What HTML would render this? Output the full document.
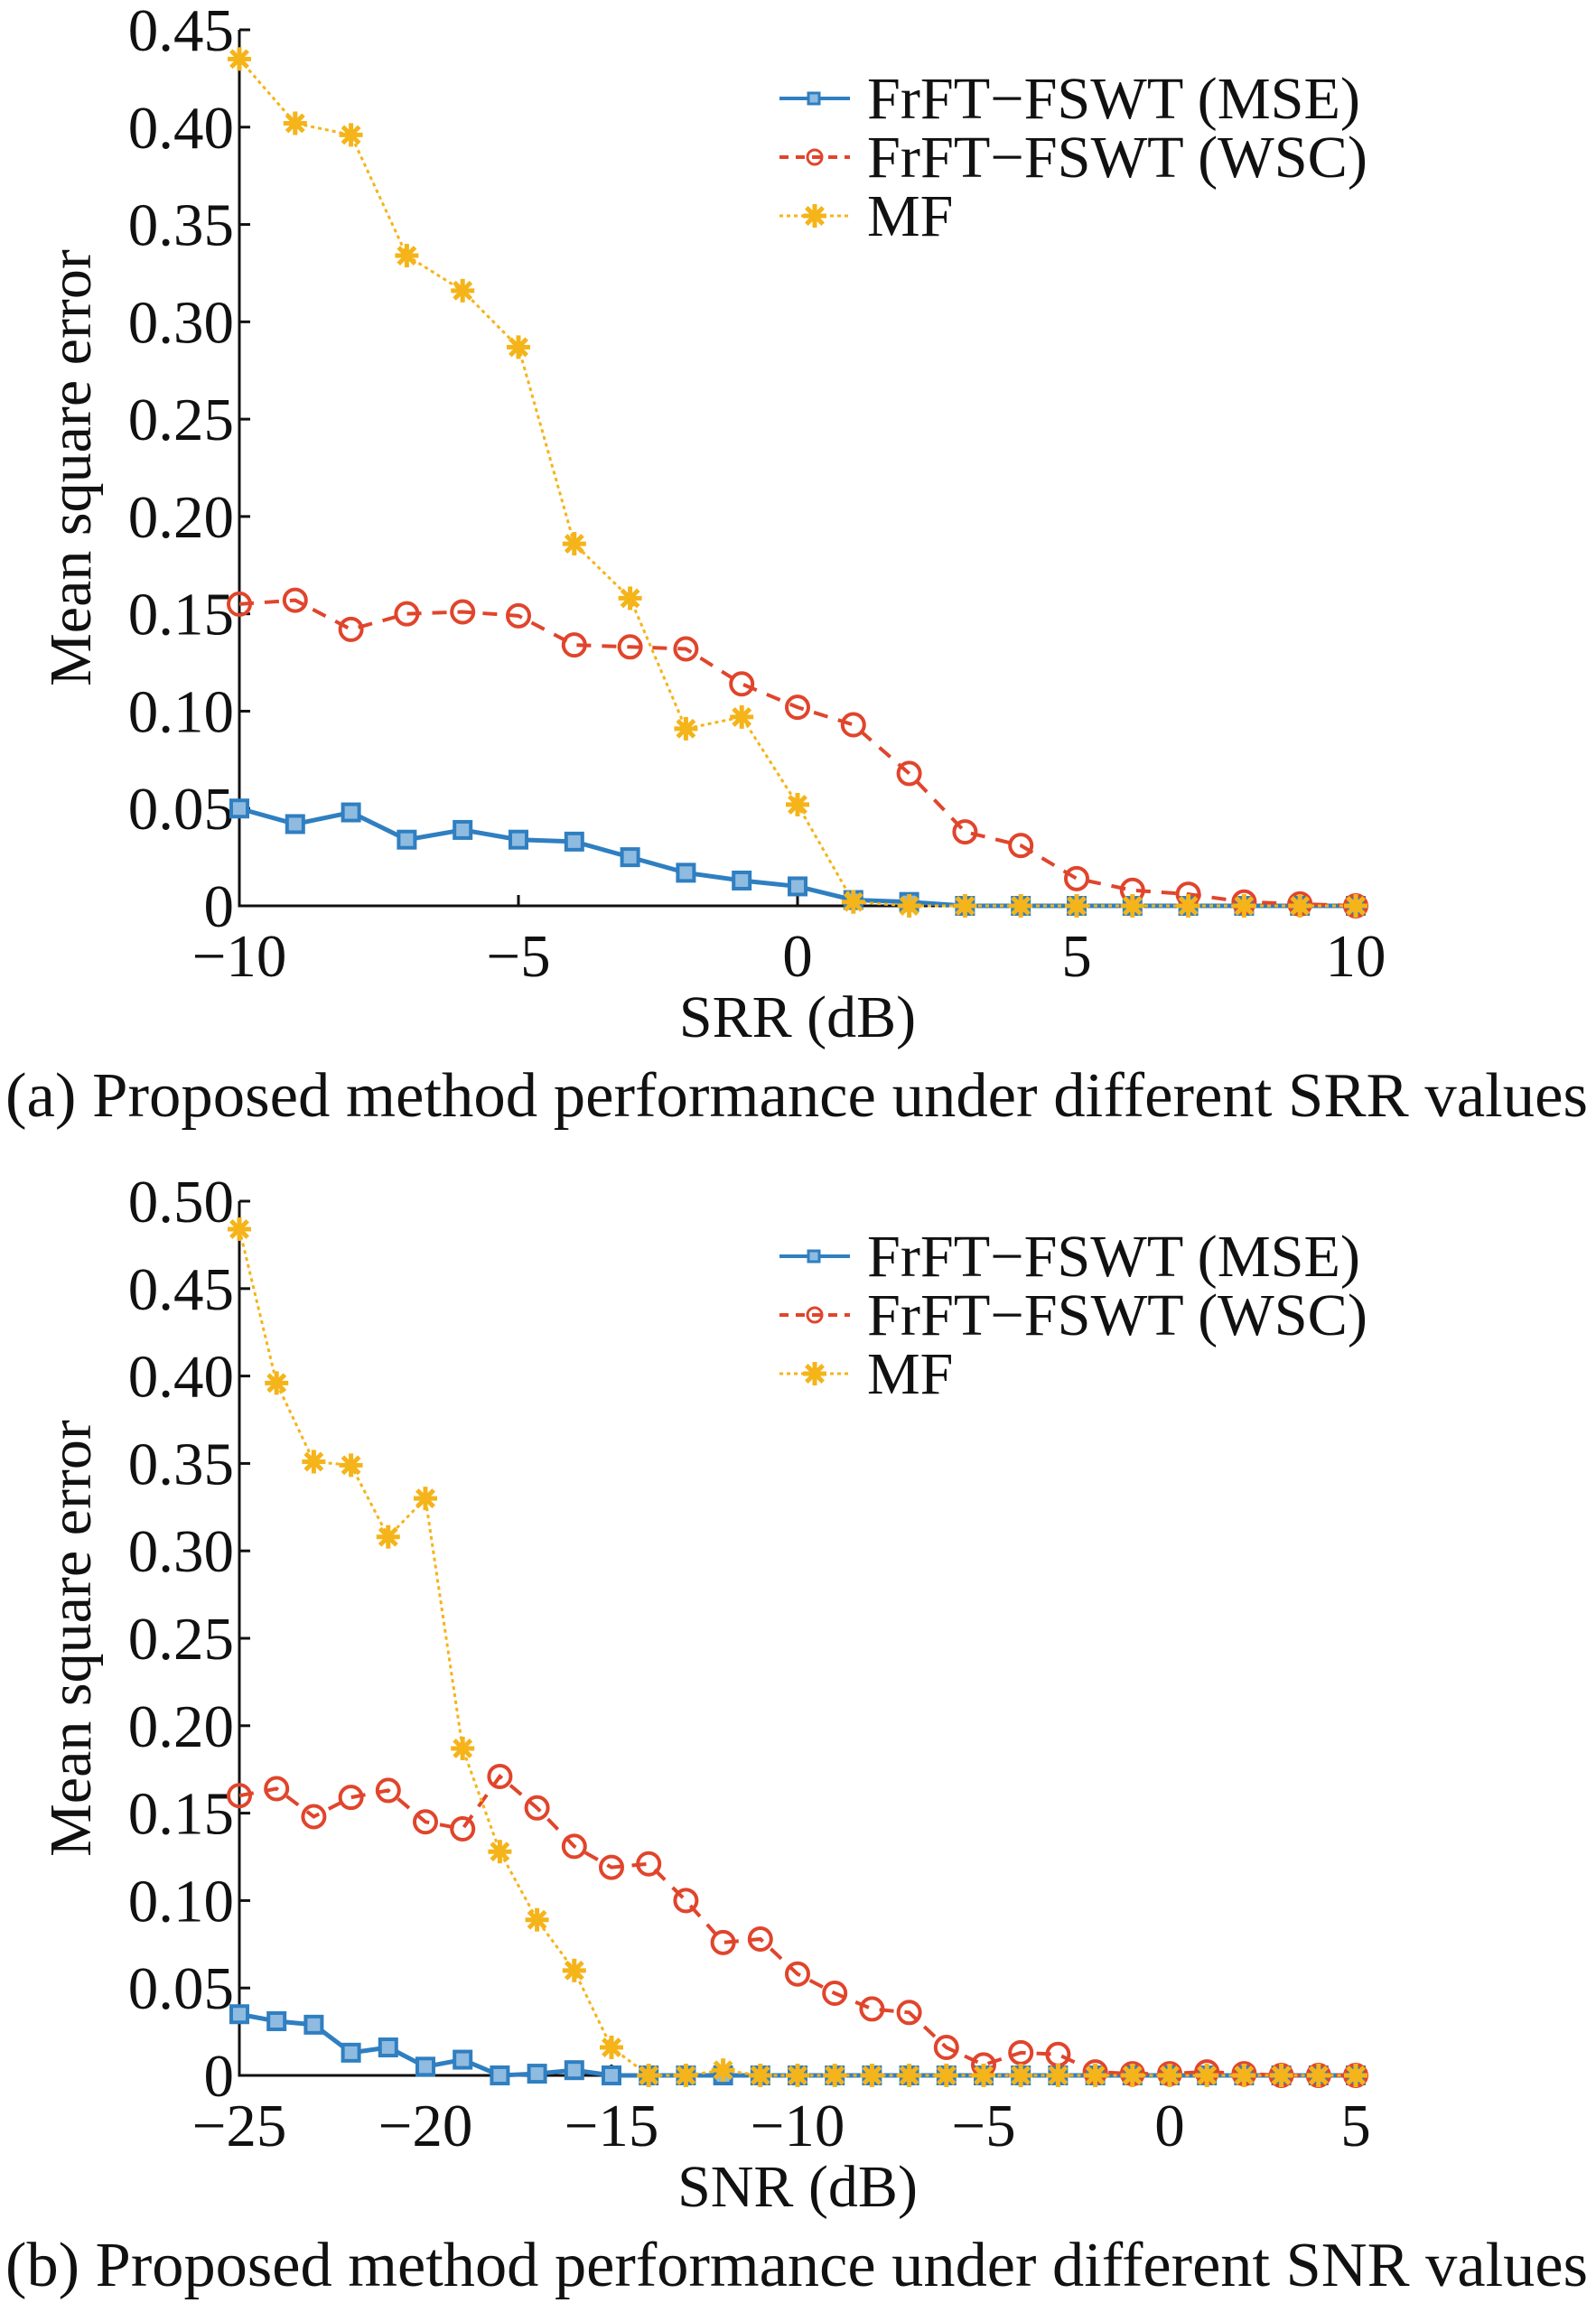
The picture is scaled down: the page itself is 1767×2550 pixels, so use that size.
<!DOCTYPE html>
<html><head><meta charset="utf-8"><style>
html,body{margin:0;padding:0;background:#fff}
svg{display:block}
text{font-family:"Liberation Serif",serif;fill:#111}
</style></head><body>
<svg id="svg" width="1767" height="2550" viewBox="0 0 1767 2550" xmlns="http://www.w3.org/2000/svg"></svg>
<script>
const xA = [-10,-9,-8,-7,-6,-5,-4,-3,-2,-1,0,1,2,3,4,5,6,7,8,9,10];
const mseA = [.050,.042,.048,.034,.039,.034,.033,.025,.017,.013,.010,.003,.002,0,0,0,0,0,0,0,0];
const wscA = [.155,.157,.142,.150,.151,.149,.134,.133,.132,.114,.102,.093,.068,.038,.031,.014,.008,.006,.002,.001,0];
const mfA = [.435,.402,.396,.334,.316,.287,.186,.158,.091,.097,.052,.002,0,0,0,0,0,0,0,0,0];
const xB = [-25,-24,-23,-22,-21,-20,-19,-18,-17,-16,-15,-14,-13,-12,-11,-10,-9,-8,-7,-6,-5,-4,-3,-2,-1,0,1,2,3,4,5];
const mseB = [.035,.031,.029,.013,.016,.005,.009,0,.001,.003,0,0,0,0,0,0,0,0,0,0,0,0,0,0,0,0,0,0,0,0,0];
const wscB = [.160,.164,.148,.159,.163,.145,.141,.171,.153,.131,.119,.121,.100,.076,.078,.058,.047,.038,.036,.016,.006,.013,.012,.002,.001,.001,.002,.001,0,0,0];
const mfB = [.484,.396,.351,.349,.308,.330,.187,.128,.089,.060,.016,0,0,.003,0,0,0,0,0,0,0,0,0,0,0,0,0,0,0,0,0];
const xTicksA = [-10,-5,0,5,10];
const xTickLabelsA = ["\u221210","\u22125","0","5","10"];
const yTicksA = [0,.05,.10,.15,.20,.25,.30,.35,.40,.45];
const yTickLabelsA = ["0","0.05","0.10","0.15","0.20","0.25","0.30","0.35","0.40","0.45"];
const xTicksB = [-25,-20,-15,-10,-5,0,5];
const xTickLabelsB = ["\u221225","\u221220","\u221215","\u221210","\u22125","0","5"];
const yTicksB = [0,.05,.10,.15,.20,.25,.30,.35,.40,.45,.50];
const yTickLabelsB = ["0","0.05","0.10","0.15","0.20","0.25","0.30","0.35","0.40","0.45","0.50"];

const NS="http://www.w3.org/2000/svg";
const svg=document.getElementById('svg');
function mk(tag,attrs,parent){const e=document.createElementNS(NS,tag);for(const k in attrs)e.setAttribute(k,attrs[k]);(parent||svg).appendChild(e);return e;}
const BLUE="#2f7fc1",RED="#e0452c",YEL="#f4b41a";

function marker(g,type,x,y){
  if(type==='sq'){const m=mk('rect',{x:x-9,y:y-9,width:18,height:18,fill:'#8fbbe0',stroke:BLUE,'stroke-width':4},g);
    }
  else if(type==='ci'){const m=mk('circle',{cx:x,cy:y,r:12,fill:'none',stroke:RED,'stroke-width':4},g);
    }
  else {const s=mk('g',{},g);
    
    for(let a=0;a<4;a++){const an=a*Math.PI/4;mk('line',{x1:x-13*Math.cos(an),y1:y-13*Math.sin(an),x2:x+13*Math.cos(an),y2:y+13*Math.sin(an),stroke:YEL,'stroke-width':5},s);}
    mk('circle',{cx:x,cy:y,r:6,fill:YEL},s);}
}

function chart(o){
  const g=mk('g',{});
  
  const sx=v=>o.x0+(v-o.xmin)/(o.xmax-o.xmin)*(o.x1-o.x0);
  const sy=v=>o.y0-(v/o.ymax)*(o.y0-o.y1);
  const ax=mk('path',{d:`M${o.x0},${o.y1} V${o.y0} H${o.x1}`,fill:'none',stroke:'#111','stroke-width':3},g);
  
  o.yt.forEach((v,i)=>{
    mk('line',{x1:o.x0,y1:sy(v),x2:o.x0+12,y2:sy(v),stroke:'#111','stroke-width':3},g);
    const t=mk('text',{x:o.x0-6,y:sy(v)+23,'text-anchor':'end','font-size':67},g);
    t.textContent=o.ytl[i];
    
  });
  o.xt.forEach((v,i)=>{
    mk('line',{x1:sx(v),y1:o.y0,x2:sx(v),y2:o.y0-12,stroke:'#111','stroke-width':3},g);
    const t=mk('text',{x:sx(v),y:o.y0+78,'text-anchor':'middle','font-size':67},g);
    t.textContent=o.xtl[i];
    
  });
  const yt=mk('text',{x:0,y:0,'text-anchor':'middle','font-size':66,transform:`translate(100,${(o.y0+o.y1)/2}) rotate(-90)`},g);
  yt.textContent='Mean square error';
  
  const xt=mk('text',{x:(o.x0+o.x1)/2,y:o.y0+145,'text-anchor':'middle','font-size':66},g);
  xt.textContent=o.xlabel;
  
  const cap=mk('text',{x:6,y:o.y0+233,'font-size':70,textLength:1752,lengthAdjust:'spacingAndGlyphs'},g);
  cap.textContent=o.caption;
  
  const series=[
    {ys:o.mse,c:BLUE,dash:'',w:5,m:'sq',n:'mse-series'},
    {ys:o.wsc,c:RED,dash:'16 12',w:4,m:'ci',n:'wsc-series'},
    {ys:o.mf,c:YEL,dash:'4 4',w:3,m:'st',n:'mf-series'}];
  series.forEach(s=>{
    const sg=mk('g',{},g);
    
    const d=o.xs.map((x,i)=>(i?'L':'M')+sx(x)+','+sy(s.ys[i])).join(' ');
    const p=mk('path',{d:d,fill:'none',stroke:s.c,'stroke-width':s.w,'stroke-dasharray':s.dash},sg);
    
    o.xs.forEach((x,i)=>marker(sg,s.m,sx(x),sy(s.ys[i])));
  });
  const lg=mk('g',{},g);
  
  const L=[['FrFT\u2212FSWT (MSE)',BLUE,'',4,'sq',546],['FrFT\u2212FSWT (WSC)',RED,'10 8',4,'ci',554],['MF',YEL,'4 4',3,'st',0]];
  L.forEach((e,i)=>{
    const y=o.ly+i*65;
    const eg=mk('g',{},lg);
    
    mk('line',{x1:863,y1:y,x2:941,y2:y,stroke:e[1],'stroke-width':e[3],'stroke-dasharray':e[2]},eg);
    if(e[4]==='sq')mk('rect',{x:895,y:y-6,width:12,height:12,fill:'#8fbbe0',stroke:BLUE,'stroke-width':3},eg);
    else if(e[4]==='ci')mk('circle',{cx:902,cy:y,r:8,fill:'none',stroke:RED,'stroke-width':3},eg);
    else marker(eg,'st',902,y);
    const at={x:960,y:y+22,'font-size':66};
    if(e[5]){at.textLength=e[5];at.lengthAdjust='spacingAndGlyphs';}
    const t=mk('text',at,eg);t.textContent=e[0];
  });
}
chart({name:'chart-srr',x0:265,x1:1501,y0:1003,y1:33,xmin:-10,xmax:10,ymax:.45,xs:xA,mse:mseA,wsc:wscA,mf:mfA,
  xt:xTicksA,xtl:xTickLabelsA,yt:yTicksA,ytl:yTickLabelsA,xlabel:'SRR (dB)',caption:'(a) Proposed method performance under different SRR values',ly:109});
chart({name:'chart-snr',x0:265,x1:1501,y0:2298,y1:1330,xmin:-25,xmax:5,ymax:.5,xs:xB,mse:mseB,wsc:wscB,mf:mfB,
  xt:xTicksB,xtl:xTickLabelsB,yt:yTicksB,ytl:yTickLabelsB,xlabel:'SNR (dB)',caption:'(b) Proposed method performance under different SNR values',ly:1391});
</script>
</body></html>
